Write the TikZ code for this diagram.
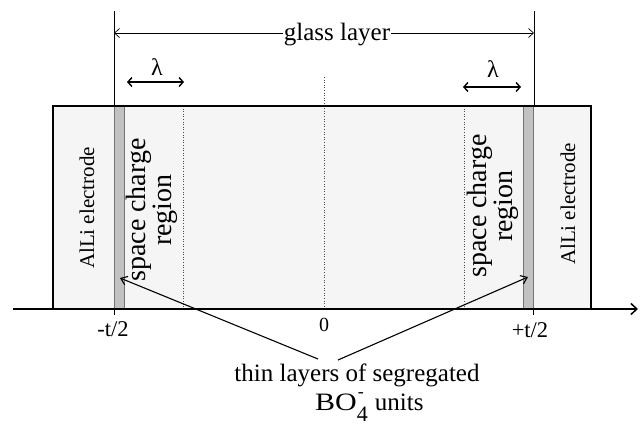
\documentclass[tikz,border=0pt]{standalone}
\usepackage{fontspec}
\setmainfont{Liberation Serif}
\usetikzlibrary{arrows.meta}
\begin{document}
\begin{tikzpicture}[x=1pt,y=-1pt,
  big/.style={font=\fontsize{25}{28}\selectfont, inner sep=1pt},
  mid/.style={font=\fontsize{22.5}{24}\selectfont, inner sep=1pt},
  scr/.style={font=\fontsize{28}{23}\selectfont, inner sep=1pt, align=center, rotate=90},
  elec/.style={font=\fontsize{21}{24}\selectfont, inner sep=1pt, rotate=90},
  dotline/.style={black!70, line width=0.6pt, dotted},
  bar/.style={fill=black!24, draw=black!55, line width=0.4pt},
  lamarrow/.style={line width=1.4pt, {Straight Barb[length=4pt,width=9pt]}-{Straight Barb[length=4pt,width=9pt]}},
  ptrarrow/.style={line width=1.1pt, -{Straight Barb[length=6pt,width=9pt]}},
  axisline/.style={line width=1.5pt, -{Straight Barb[length=6pt,width=11pt]}}
]
\useasboundingbox (0,0) rectangle (644,426);

% glass block
\coordinate (rTL) at (53,106);
\coordinate (rBR) at (591,309);
\fill[black!4] (rTL) rectangle (rBR);

% dotted lines
\coordinate (dL1) at (183,106); \coordinate (dL2) at (183,309);
\coordinate (dR1) at (464,106); \coordinate (dR2) at (464,309);
\coordinate (dC1) at (324,77);  \coordinate (dC2) at (324,309);
\draw[dotline] (dL1) -- (dL2);
\draw[dotline] (dR1) -- (dR2);
\draw[dotline] (dC1) -- (dC2);

% thin segregated layers
\coordinate (bL1) at (114,106); \coordinate (bL2) at (124,309);
\coordinate (bR1) at (523,106); \coordinate (bR2) at (533,309);
\draw[bar] (bL1) rectangle (bL2);
\draw[bar] (bR1) rectangle (bR2);

% border and axis
\draw[line width=1.5pt] (rTL) rectangle (rBR);
\coordinate (ax0) at (13,309);
\coordinate (ax1) at (638,309);
\draw[axisline] (ax0) -- (ax1);

% vertical limits and ticks
\coordinate (vL0) at (114,11); \coordinate (vL1) at (114,106);
\coordinate (vR0) at (534,11); \coordinate (vR1) at (534,106);
\draw[line width=0.8pt] (vL0) -- (vL1);
\draw[line width=0.8pt] (vR0) -- (vR1);
\coordinate (tL0) at (114,309); \coordinate (tL1) at (114,315);
\coordinate (tR0) at (533,309); \coordinate (tR1) at (533,315);
\draw[line width=0.8pt] (tL0) -- (tL1);
\draw[line width=0.8pt] (tR0) -- (tR1);

% glass layer dimension
\node[big] (glass) at (337,35) {glass layer};
\coordinate (gL) at (114,33);
\coordinate (gR) at (534,33);
\draw[line width=0.7pt, -{Straight Barb[length=5pt,width=9pt]}] (glass.west |- gL) -- (gL);
\draw[line width=0.7pt, -{Straight Barb[length=5pt,width=9pt]}] (glass.east |- gR) -- (gR);

% lambda
\node[font=\fontsize{24}{26}\selectfont, inner sep=1pt] (lamL) at (157,67) {λ};
\node[font=\fontsize{24}{26}\selectfont, inner sep=1pt] (lamR) at (493,69) {λ};
\coordinate (lL0) at (127,82); \coordinate (lL1) at (184,82);
\coordinate (lR0) at (463,87); \coordinate (lR1) at (521,87);
\draw[lamarrow] (lL0) -- (lL1);
\draw[lamarrow] (lR0) -- (lR1);

% region labels
\node[elec] (elL) at (87,208) {AlLi electrode};
\node[elec] (elR) at (568,204) {AlLi electrode};
\node[scr] (scL) at (152,210) {space charge\\region};
\node[scr] (scR) at (493,206) {space charge\\region};

% axis labels
\node[mid] (mt) at (113,329) {-t/2};
\node[font=\fontsize{20}{22}\selectfont, inner sep=1pt] (zero) at (324,325) {0};
\node[mid] (pt) at (530,330) {+t/2};

% bottom caption and pointers
\node[big] (thin) at (357,375) {thin layers of segregated};
\node[font=\fontsize{25}{28}\selectfont, inner sep=0pt, anchor=base west] (bo) at (315,410)
  {\scalebox{1.2}[1]{BO}\makebox[0pt][l]{\kern1pt\raisebox{13pt}{\fontsize{18}{18}\selectfont -}}\raisebox{-11pt}{\fontsize{22}{22}\selectfont 4}\kern7pt{\fontsize{25}{25}\selectfont units}};
\coordinate (pL0) at (318,359); \coordinate (pL1) at (120,278);
\coordinate (pR0) at (338,360); \coordinate (pR1) at (528,277);
\draw[ptrarrow] (pL0) -- (pL1);
\draw[ptrarrow] (pR0) -- (pR1);
\end{tikzpicture}
\end{document}
